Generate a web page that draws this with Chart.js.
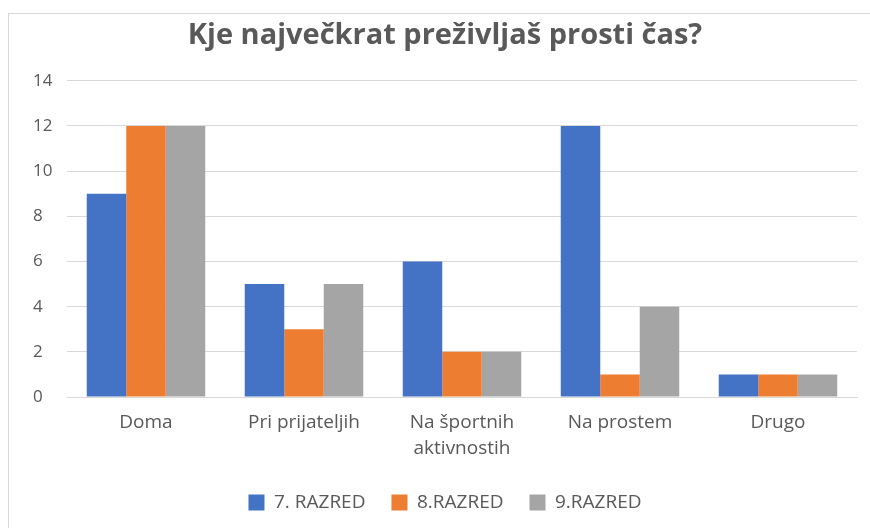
<!DOCTYPE html>
<html><head><meta charset="utf-8">
<script src="https://cdn.jsdelivr.net/npm/chart.js@4/dist/chart.umd.min.js"></script>
<style>html,body{margin:0;padding:0;background:#fff;}#wrap{width:870px;height:528px;position:relative;}</style>
</head><body><div id="wrap"><canvas id="c" width="870" height="528"></canvas></div>
<script>
const categories = ["Doma", "Pri prijateljih", ["Na športnih", "aktivnostih"], "Na prostem", "Drugo"];
const seriesNames = ["7. RAZRED", "8.RAZRED", "9.RAZRED"];
const razred7 = [9, 5, 6, 12, 1];
const razred8 = [12, 3, 2, 1, 1];
const razred9 = [12, 5, 2, 4, 1];
const colors = ["#4472C4", "#ED7D31", "#A5A5A5"];
const yTicks = {min: 0, max: 14, step: 2};

const borderPlugin = {
  id: 'frame',
  beforeDraw(chart) {
    const ctx = chart.ctx;
    ctx.save();
    ctx.fillStyle = '#fff';
    ctx.fillRect(0, 0, chart.width, chart.height);
    ctx.strokeStyle = '#d9d9d9';
    ctx.lineWidth = 1;
    ctx.strokeRect(8.5, 13.5, 880, 600);
    ctx.restore();
  }
};

Chart.defaults.font.family = "'Open Sans', sans-serif";
Chart.defaults.color = '#595959';

new Chart(document.getElementById('c'), {
  type: 'bar',
  data: {
    labels: categories,
    datasets: [razred7, razred8, razred9].map((d, i) => ({
      label: seriesNames[i], data: d, backgroundColor: colors[i],
      barPercentage: 1.0, categoryPercentage: 0.75, borderWidth: 0
    }))
  },
  options: {
    responsive: false,
    animation: false,
    layout: {padding: {top: 0, right: 13, left: 33, bottom: 6}},
    plugins: {
      title: {display: true, text: 'Kje največkrat preživljaš prosti čas?', color: '#595959',
        font: {size: 29, weight: '700', lineHeight: 1.2}, padding: {top: 18, bottom: 28}},
      legend: {position: 'bottom',
        labels: {boxWidth: 16, boxHeight: 16, padding: 26, font: {size: 19}, color: '#595959'}},
      tooltip: {enabled: false}
    },
    scales: {
      x: {
        afterFit(s) { s.height = 70; },
        grid: {display: false, drawTicks: false},
        border: {display: true, color: '#d9d9d9'},
        ticks: {font: {size: 19, lineHeight: 1.4}, color: '#595959', padding: 12, maxRotation: 0, autoSkip: false}
      },
      y: {
        min: yTicks.min, max: yTicks.max,
        afterFit(s) { s.width = 34; },
        grid: {color: '#d9d9d9', drawTicks: false},
        border: {display: false},
        ticks: {stepSize: yTicks.step, font: {size: 17}, color: '#595959', crossAlign: 'far', padding: 0}
      }
    }
  },
  plugins: [borderPlugin]
});
</script></body></html>
